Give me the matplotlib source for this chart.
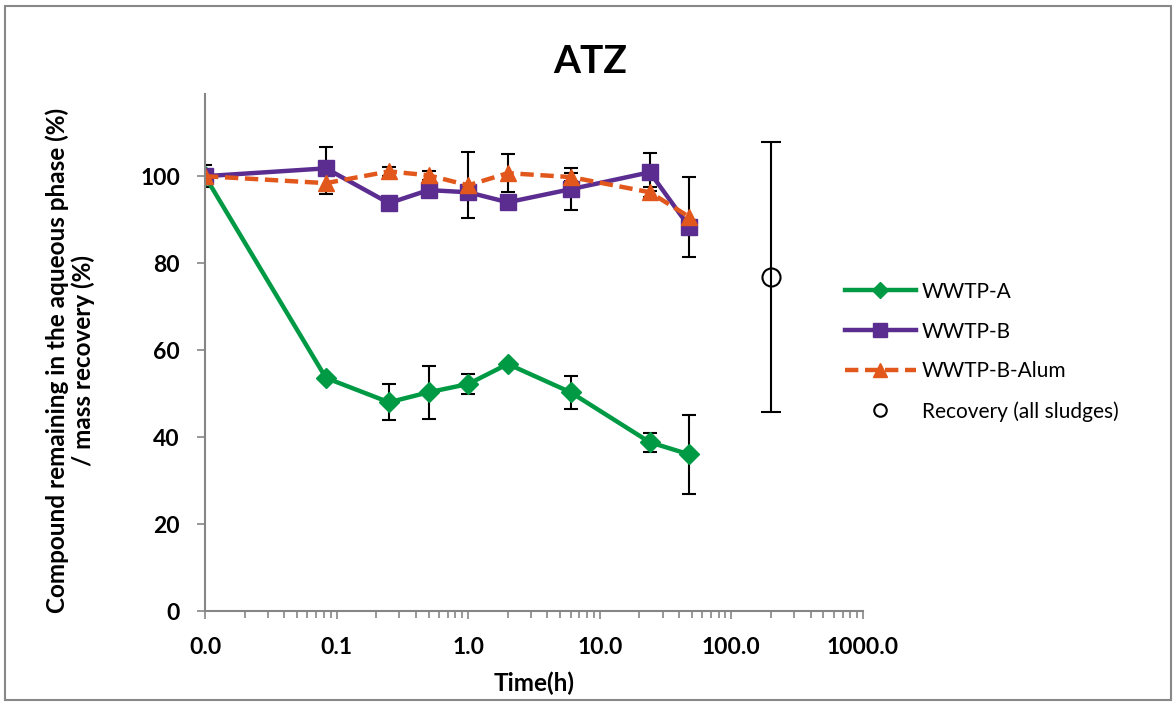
import numpy as np
import matplotlib
matplotlib.use("Agg")
import matplotlib.pyplot as plt
from matplotlib.patches import Rectangle
from matplotlib.lines import Line2D

# Données (temps en h, 0 h tracé à 0.01 sur l'axe log)
temps = [0.01, 0.083, 0.25, 0.5, 1.0, 2.0, 6.0, 24.0, 48.0]
wwtp_a = [100, 53.6, 48.0, 50.3, 52.2, 56.8, 50.3, 38.8, 36.0]
wwtp_a_err = [0, 0, 4.1, 6.1, 2.3, 0, 3.8, 2.2, 9.0]
wwtp_b = [100, 101.8, 93.8, 96.8, 96.3, 94.0, 97.0, 100.9, 88.3]
wwtp_b_err = [2.5, 5.0, 0, 0, 0, 0, 4.8, 4.4, 0]
wwtp_b_alum = [100, 98.4, 101.1, 100.2, 97.9, 100.7, 99.8, 96.3, 90.6]
wwtp_b_alum_err = [0, 2.5, 1.0, 1.0, 7.6, 4.4, 1.0, 1.2, 9.2]
recup_t = [200]
recup = [76.8]
recup_err = [31]

xticks = [0.01, 0.1, 1, 10, 100, 1000]
xtick_labels = ["0.0", "0.1", "1.0", "10.0", "100.0", "1000.0"]
yticks = [0, 20, 40, 60, 80, 100]

plt.rcParams['font.family'] = ['Lato', 'DejaVu Sans']

fig = plt.figure(figsize=(11.75, 7.02), dpi=100)
ax = fig.add_axes([205/1175, 1 - 611/702, (863 - 205)/1175, (611 - 94)/702])

vert = '#009a44'
violet = '#5c2d91'
orange = '#e2571b'
tirets = (0, (3, 1.5))

ax.errorbar(temps, wwtp_a, yerr=wwtp_a_err, color=vert, lw=3.2, marker='D',
            markersize=10, ecolor='black', elinewidth=1.5, capsize=5,
            capthick=1.5)
ax.errorbar(temps, wwtp_b, yerr=wwtp_b_err, color=violet, lw=3.2, marker='s',
            markersize=12, ecolor='black', elinewidth=1.5, capsize=5,
            capthick=1.5)
ax.errorbar(temps, wwtp_b_alum, yerr=wwtp_b_alum_err, color=orange, lw=3.2,
            linestyle=tirets, marker='^', markersize=12, ecolor='black',
            elinewidth=1.5, capsize=5, capthick=1.5)
ax.errorbar(recup_t, recup, yerr=recup_err, color='black', linestyle='none',
            marker='o', markersize=13, markerfacecolor='none',
            markeredgewidth=1.5, elinewidth=1.5, capsize=7, capthick=1.5)

ax.set_xscale('log')
ax.set_xlim(0.01, 1000)
ax.set_ylim(0, 118.9)
ax.set_xticks(xticks)
ax.set_xticklabels(xtick_labels)
ax.set_yticks(yticks)
ax.xaxis.set_minor_locator(matplotlib.ticker.LogLocator(base=10, subs=np.arange(2, 10)))
ax.xaxis.set_minor_formatter(matplotlib.ticker.NullFormatter())

for s in ['top', 'right']:
    ax.spines[s].set_visible(False)
for s in ['left', 'bottom']:
    ax.spines[s].set_color('#868686')
    ax.spines[s].set_linewidth(1.5)
ax.tick_params(axis='both', which='both', color='#868686', width=1.2)
ax.tick_params(axis='y', length=6, pad=12, labelsize=16.5)
ax.tick_params(axis='x', which='major', length=6, pad=13, labelsize=16.5)
ax.tick_params(axis='x', which='minor', length=5)
for lab in ax.get_xticklabels() + ax.get_yticklabels():
    lab.set_fontweight('bold')

ax.set_xlabel("Time(h)", fontsize=17.5, fontweight='bold')
ax.xaxis.set_label_coords(0.5, -0.118)
ax.set_ylabel("Compound remaining in the aqueous phase (%)\n/ mass recovery (%)",
              fontsize=17.5, fontweight='bold', linespacing=1.15)
ax.yaxis.set_label_coords(-0.167, 0.484)
fig.text(0.502, 0.913, "ATZ", ha='center', va='center', fontsize=28,
         fontweight='bold')

poignees = [
    Line2D([], [], color=vert, lw=3.2, marker='D', markersize=8),
    Line2D([], [], color=violet, lw=3.2, marker='s', markersize=10),
    Line2D([], [], color=orange, lw=3.2, linestyle=tirets, marker='^', markersize=10),
    Line2D([], [], color='black', linestyle='none', marker='o', markersize=9,
           markerfacecolor='none', markeredgewidth=1.5),
]
noms = ['WWTP-A', 'WWTP-B', 'WWTP-B-Alum', 'Recovery (all sludges)']
ax.legend(poignees, noms, loc='upper left', bbox_to_anchor=(826/1175, 1 - 263/702),
          bbox_transform=fig.transFigure, frameon=False, fontsize=15,
          handlelength=3.4, handletextpad=0.3, labelspacing=0.95)

# cadre gris autour du graphique
fig.patches.append(Rectangle((0.004, 0.003), 0.993, 0.989, transform=fig.transFigure,
                             fill=False, edgecolor='#888888', linewidth=1.5))

fig.savefig("out.png", dpi=100)
